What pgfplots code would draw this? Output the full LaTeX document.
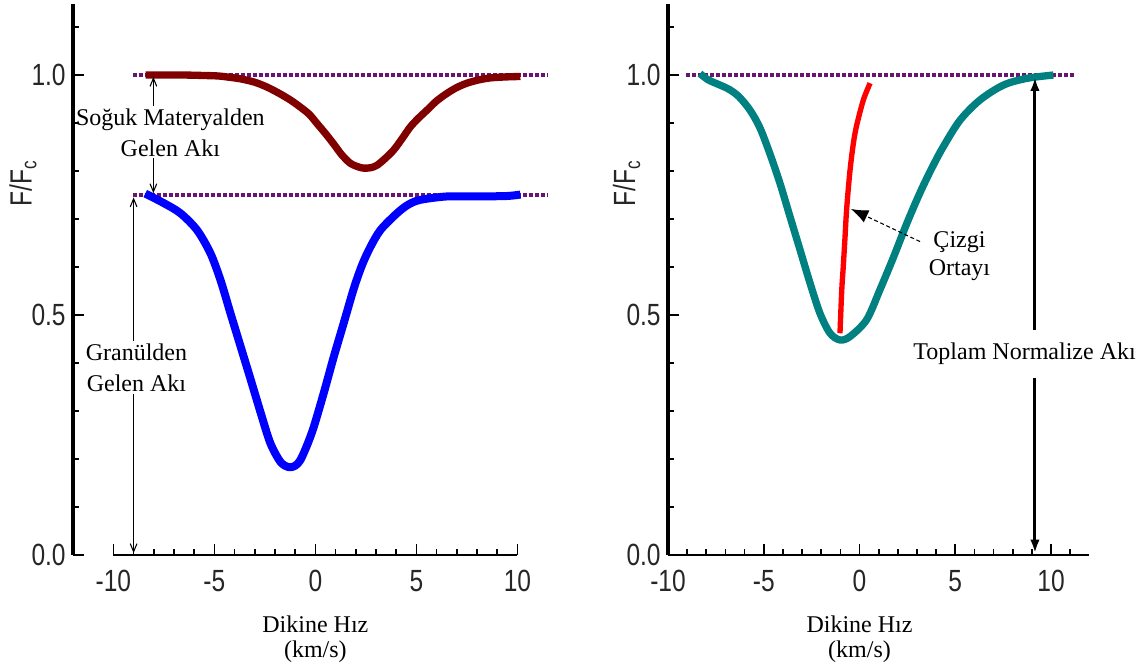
\documentclass[border=0pt]{standalone}
\usepackage{fontspec}
\setmainfont{Liberation Serif}
\newfontfamily\sansf[FakeStretch=0.8]{Liberation Sans}
\usepackage{pgfplots}
\pgfplotsset{compat=1.18}
\usetikzlibrary{arrows.meta}
\definecolor{maroonc}{RGB}{128,0,0}
\definecolor{tealc}{RGB}{0,128,128}
\definecolor{dotc}{RGB}{105,20,115}

\pgfplotsset{
 panel/.style={
  scale only axis, height=413.25pt, ymin=0, ymax=1.148,
  axis lines=left, axis line style={draw=none,-},
  tick align=inside,
  ytick={0,0.5,1}, yticklabels={0.0,0.5,1.0},
  minor ytick={0.1,0.2,0.3,0.4,0.6,0.7,0.8,0.9,1.1},
  xtick={-10,-5,0,5,10}, xticklabels={-10,-5,0,5,10},
  major tick length=8.5pt, minor tick length=4.5pt,
  tick style={black, line width=1.3pt},
  tick label style={font=\sansf\fontsize{23}{23}\selectfont, black!85},
  yticklabel style={xshift=-2pt},
  xticklabel style={yshift=-8pt},
  clip=false,
 },
 dotl/.style={dotc, line width=2.6pt, dash pattern=on 3pt off 1.5pt},
}
\tikzset{annot/.style={font=\fontsize{18}{23}\selectfont}}

\begin{document}
\begin{tikzpicture}
\useasboundingbox (-54.75pt,-81.75pt) rectangle (801.75pt,416.25pt);

% ---------------- left panel ----------------
\begin{axis}[panel, at={(0,0)}, anchor=south west, width=363.6pt,
  xmin=-12, xmax=12, minor xtick={-9,-8,-7,-6,-4,-3,-2,-1,1,2,3,4,6,7,8,9}]
\draw[line width=2.8pt] (axis cs:-12,1.148) -- (axis cs:-12,0);
\draw[line width=1.8pt] (axis cs:-10,0) -- (axis cs:10,0);

\addplot[dotl] coordinates {(-9.05,1.0) (11.5,1.0)};
\addplot[dotl] coordinates {(-9.05,0.75) (11.5,0.75)};

\addplot[maroonc, line width=5.5pt, line join=round, smooth] coordinates {
(-8.4,1.0) (-7.5,1.0) (-6.5,1.0) (-5.5,0.999) (-4.8,0.998) (-4.2,0.995)
(-3.7,0.992) (-3.0,0.985) (-2.4,0.975) (-1.8,0.962) (-1.24,0.948) (-0.74,0.933)
(-0.3,0.918) (0.08,0.899) (0.5,0.878) (0.91,0.856) (1.3,0.834) (1.73,0.816)
(2.1,0.809) (2.39,0.806) (2.75,0.807) (3.05,0.812) (3.45,0.826) (3.88,0.844)
(4.3,0.868) (4.7,0.892) (5.1,0.91) (5.53,0.927) (6.0,0.946) (6.52,0.962)
(7.0,0.974) (7.5,0.983) (8.1,0.99) (8.66,0.994) (9.4,0.996) (10.15,0.997)};

\addplot[blue, line width=6pt, line join=round, smooth] coordinates {
(-8.42,0.753) (-7.5,0.733) (-6.68,0.712) (-5.86,0.677) (-5.2,0.629) (-4.7,0.573)
(-4.2,0.503) (-3.7,0.434) (-3.2,0.365) (-2.7,0.295) (-2.23,0.233) (-1.73,0.194)
(-1.32,0.183) (-1.0,0.186) (-0.74,0.198) (-0.4,0.23) (-0.08,0.267) (0.41,0.337)
(0.91,0.413) (1.4,0.483) (1.9,0.555) (2.3,0.603) (2.7,0.64) (3.22,0.677)
(4.04,0.712) (4.6,0.73) (5.2,0.74) (6.5,0.747) (8,0.747) (9.5,0.748) (10.15,0.751)};

% annotations
\node[annot, align=center] at (axis cs:-7.18,0.879) {Soğuk Materyalden\\Gelen Akı};
\draw[line width=0.8pt, -{Straight Barb[length=6pt,width=5pt]}] (axis cs:-8.02,0.935) -- (axis cs:-8.02,0.996);
\draw[line width=0.8pt, -{Straight Barb[length=6pt,width=5pt]}] (axis cs:-8.02,0.827) -- (axis cs:-8.02,0.754);

\node[annot, align=center] at (axis cs:-8.86,0.39) {Granülden\\Gelen Akı};
\draw[line width=0.8pt, -{Straight Barb[length=6pt,width=5pt]}] (axis cs:-9.0,0.446) -- (axis cs:-9.0,0.745);
\draw[line width=0.8pt, -{Straight Barb[length=6pt,width=5pt]}] (axis cs:-9.0,0.335) -- (axis cs:-9.0,0.004);

\node[font=\sansf\fontsize{23}{23}\selectfont, black!85, rotate=90] at ([xshift=-37.5pt]axis cs:-12,0.775) {F/F\textsubscript{c}};
\node[annot] at ([yshift=-52pt]axis cs:0,0) {Dikine Hız};
\node[annot] at ([yshift=-72.5pt]axis cs:0,0) {(km/s)};
\end{axis}

% ---------------- right panel ----------------
\begin{axis}[panel, at={(446.25pt,0)}, anchor=south west, width=316pt,
  xmin=-10, xmax=12, minor xtick={-9,-8,-7,-6,-4,-3,-2,-1,1,2,3,4,6,7,8,9,11}]
\draw[line width=2.8pt] (axis cs:-10,1.148) -- (axis cs:-10,0);
\draw[line width=1.8pt] (axis cs:-10,0) -- (axis cs:12,0);

\addplot[dotl] coordinates {(-9.05,1.0) (11.2,1.0)};

\addplot[tealc, line width=5.5pt, line join=round, smooth] coordinates {
(-8.33,1.003) (-7.9,0.99) (-7.28,0.979) (-6.8,0.97) (-6.3,0.955) (-5.72,0.927)
(-5.2,0.89) (-4.67,0.835) (-4.15,0.774) (-3.63,0.705) (-3.1,0.635) (-2.58,0.566)
(-2.06,0.503) (-1.54,0.462) (-1.02,0.448) (-0.5,0.455) (0.37,0.49)
(1.07,0.553) (1.77,0.62) (2.46,0.69) (3.16,0.755) (3.8,0.808) (4.38,0.851)
(5.25,0.906) (6.29,0.948) (7.51,0.979) (8.73,0.993) (10.12,1.0)};

\addplot[red, line width=4pt, line join=round, smooth] coordinates {
(-1.02,0.462) (-0.93,0.55) (-0.85,0.6) (-0.76,0.66) (-0.67,0.722) (-0.5,0.8)
(-0.32,0.858) (-0.15,0.895) (0.2,0.948) (0.55,0.983)};

\draw[line width=0.8pt, densely dashed, -{Latex[length=13pt,width=10pt]}] (axis cs:3.16,0.653) -- (axis cs:-0.45,0.721);
\node[align=center, font=\fontsize{18}{21}\selectfont] at (axis cs:5.22,0.622) {Çizgi\\Ortayı};

\node[annot] at (axis cs:8.62,0.42) {Toplam Normalize Akı};
\draw[line width=2.2pt, -{Latex[length=10pt,width=7pt]}] (axis cs:9.16,0.469) -- (axis cs:9.16,0.995);
\draw[line width=2.2pt, -{Latex[length=10pt,width=7pt]}] (axis cs:9.16,0.369) -- (axis cs:9.16,0.004);

\node[font=\sansf\fontsize{23}{23}\selectfont, black!85, rotate=90] at ([xshift=-31pt]axis cs:-10,0.775) {F/F\textsubscript{c}};
\node[annot] at ([yshift=-52pt]axis cs:0,0) {Dikine Hız};
\node[annot] at ([yshift=-72.5pt]axis cs:0,0) {(km/s)};
\end{axis}
\end{tikzpicture}
\end{document}
